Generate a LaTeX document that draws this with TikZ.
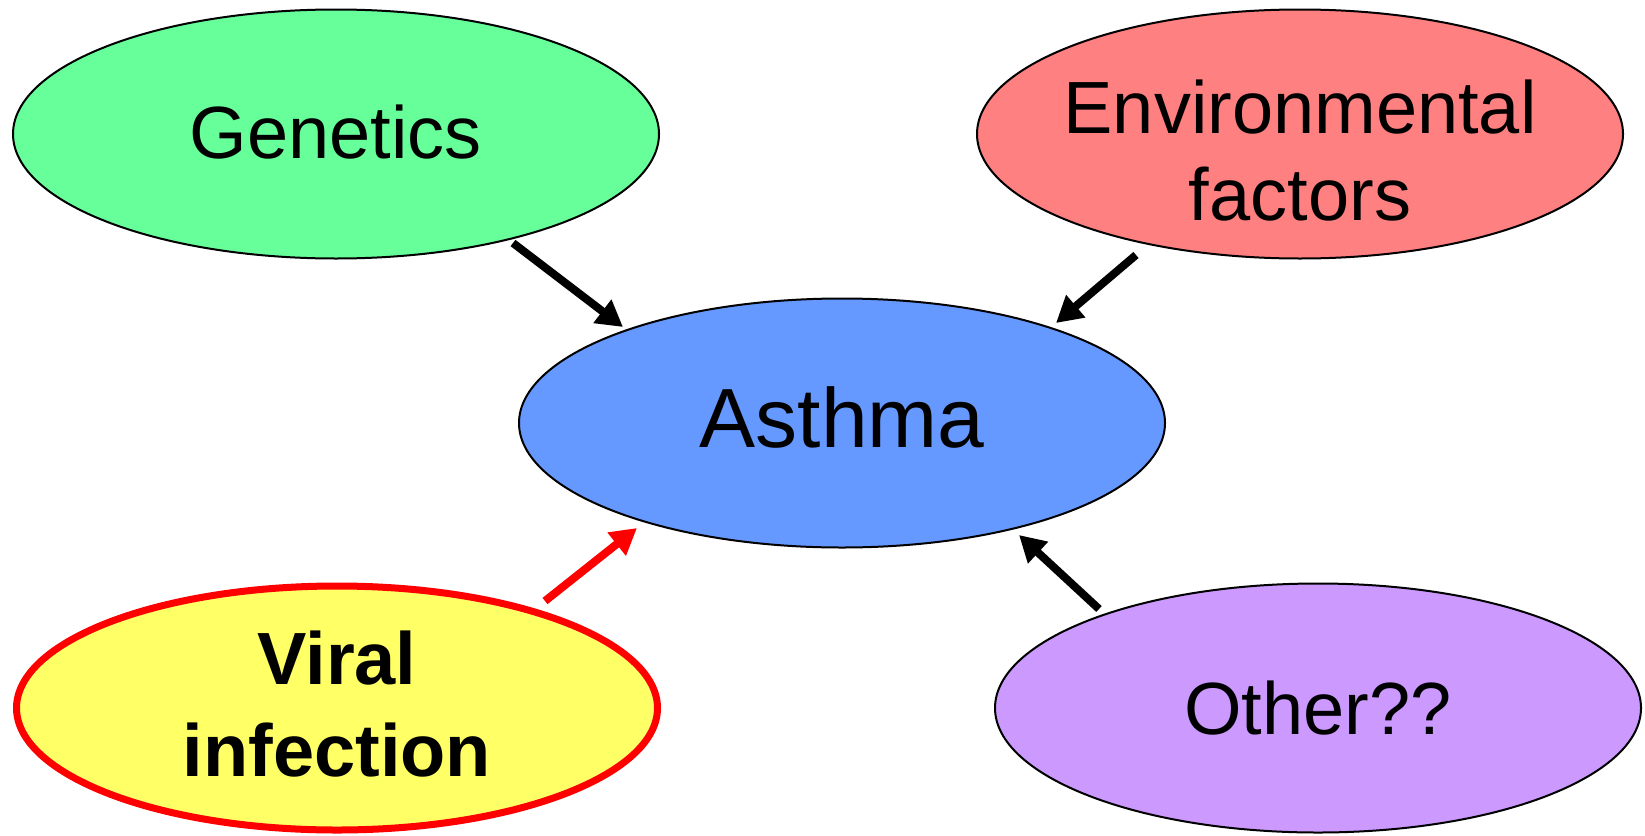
\documentclass[tikz,border=0pt]{standalone}
\usepackage{fontspec}
\setmainfont{Liberation Sans}
\usetikzlibrary{shapes.geometric,arrows.meta}
\definecolor{cgreen}{RGB}{102,255,153}
\definecolor{csalmon}{RGB}{255,128,128}
\definecolor{cblue}{RGB}{102,153,255}
\definecolor{cyellow}{RGB}{255,255,102}
\definecolor{cpurple}{RGB}{204,153,255}
\begin{document}
\begin{tikzpicture}[x=1pt,y=-1pt,
  blob/.style={ellipse,draw=black,line width=2pt,inner sep=0pt,
    minimum width=646pt,minimum height=249pt},
  lbl/.style={align=center,inner sep=0pt,font=\fontsize{74}{87}\selectfont},
  causearrow/.style={line width=8pt,-{Triangle[length=26pt,width=28pt]}}]
\useasboundingbox (0,0) rectangle (1645,835);
\node[blob,fill=cgreen,label={[lbl,yshift=2pt]center:Genetics}] (gen) at (336,134) {};
\node[blob,fill=csalmon,label={[lbl,yshift=-17pt]center:Environmental\\factors}] (env) at (1300,134) {};
\node[blob,fill=cblue,label={[lbl,yshift=6pt,font=\fontsize{84}{96}\selectfont]center:Asthma}] (asthma) at (842,423) {};
\node[blob,fill=cyellow,draw=red,line width=7pt,minimum width=641pt,minimum height=244pt,
  label={[lbl,yshift=4pt,font=\fontsize{74}{92}\bfseries\selectfont]center:Viral\\infection}] (viral) at (337,708) {};
\node[blob,fill=cpurple,label={[lbl]center:Other??}] (other) at (1318,708) {};
\coordinate (g1) at (513,243); \coordinate (g2) at (623,327);
\coordinate (e1) at (1136,255); \coordinate (e2) at (1056,323);
\coordinate (v1) at (545,601); \coordinate (v2) at (637,528);
\coordinate (o1) at (1099,609); \coordinate (o2) at (1019,535);
\draw[causearrow] (g1) -- (g2);
\draw[causearrow] (e1) -- (e2);
\draw[causearrow,red] (v1) -- (v2);
\draw[causearrow] (o1) -- (o2);
\end{tikzpicture}
\end{document}
